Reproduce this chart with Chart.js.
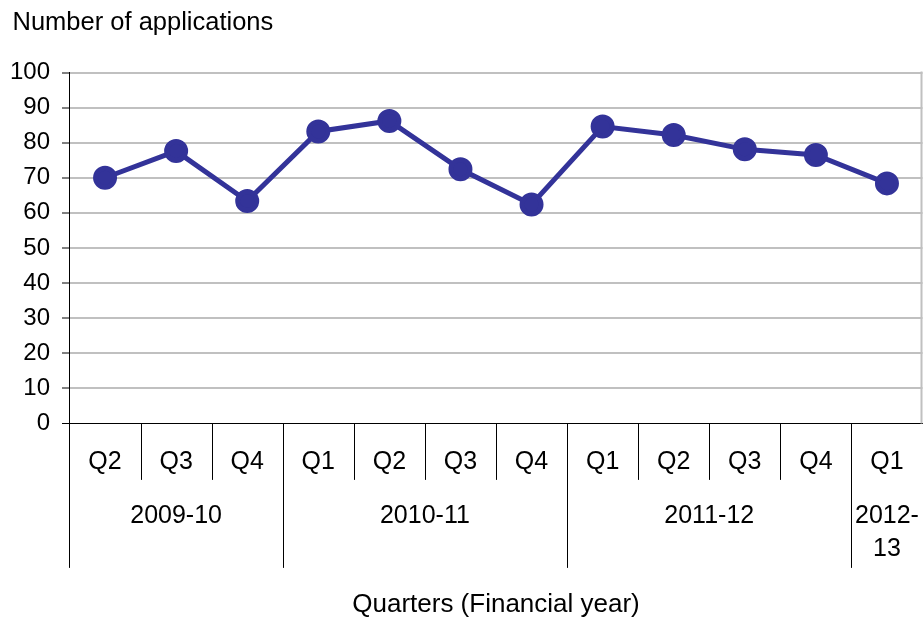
<!DOCTYPE html>
<html>
<head>
<meta charset="utf-8">
<script src="https://cdn.jsdelivr.net/npm/chart.js@4/dist/chart.umd.min.js"></script>
<style>
  html, body { margin: 0; padding: 0; background: #ffffff; }
  #wrap { width: 924px; height: 626px; }
</style>
</head>
<body>
<div id="wrap"><canvas id="c" width="924" height="626"></canvas></div>
<script>
// ---- data ----
const quarters = ['Q2','Q3','Q4','Q1','Q2','Q3','Q4','Q1','Q2','Q3','Q4','Q1'];
const financialYears = ['2009-10','2009-10','2009-10','2010-11','2010-11','2010-11','2010-11','2011-12','2011-12','2011-12','2011-12','2012-13'];
const applications = [70, 77.6, 63.4, 83.2, 86.2, 72.4, 62.4, 84.6, 82.2, 78.1, 76.5, 68.4];
const yTicks = [0, 10, 20, 30, 40, 50, 60, 70, 80, 90, 100];
const yTitle = 'Number of applications';
const xTitle = 'Quarters (Financial year)';
// year labels that wrap onto two lines
const yearLabelLines = { '2012-13': ['2012-', '13'] };

const FONT = "'Liberation Sans', Arial, sans-serif";
const LINE_COLOR = '#333399';

const groupPlugin = {
  id: 'groupAxis',
  afterDraw(chart) {
    const ctx = chart.ctx;
    const xs = chart.scales.x;
    const area = chart.chartArea;
    const n = quarters.length;
    const half = (xs.getPixelForValue(1) - xs.getPixelForValue(0)) / 2;
    ctx.save();
    // right border of plot area
    ctx.strokeStyle = '#c0c0c0';
    ctx.lineWidth = 2;
    ctx.beginPath();
    ctx.moveTo(area.right - 1, area.top - 1);
    ctx.lineTo(area.right - 1, area.bottom);
    ctx.stroke();
    // separators
    ctx.strokeStyle = '#000000';
    ctx.lineWidth = 1;
    for (let i = 0; i < n; i++) {
      const x = Math.round(xs.getPixelForValue(i) - half) + 0.5;
      const isYear = i === 0 || financialYears[i] !== financialYears[i - 1];
      ctx.beginPath();
      ctx.moveTo(x, area.bottom);
      ctx.lineTo(x, area.bottom + (isYear ? 144.5 : 56.5));
      ctx.stroke();
    }
    // year labels
    ctx.fillStyle = '#000000';
    ctx.font = '25px ' + FONT;
    ctx.textAlign = 'center';
    ctx.textBaseline = 'middle';
    let start = 0;
    for (let i = 1; i <= n; i++) {
      if (i === n || financialYears[i] !== financialYears[start]) {
        const cx = (xs.getPixelForValue(start) + xs.getPixelForValue(i - 1)) / 2;
        const name = financialYears[start];
        const lines = yearLabelLines[name] || [name];
        lines.forEach((ln, k) => ctx.fillText(ln, cx, area.bottom + 93 + k * 33));
        start = i;
      }
    }
    // titles
    ctx.textBaseline = 'alphabetic';
    ctx.textAlign = 'left';
    ctx.font = '25.5px ' + FONT;
    ctx.fillText(yTitle, 12.5, 29.5);
    ctx.textAlign = 'center';
    ctx.font = '26px ' + FONT;
    ctx.fillText(xTitle, (area.left + area.right) / 2, 612);
    ctx.restore();
  }
};

new Chart(document.getElementById('c'), {
  type: 'line',
  data: {
    labels: quarters,
    datasets: [{
      data: applications,
      borderColor: LINE_COLOR,
      backgroundColor: LINE_COLOR,
      pointBackgroundColor: LINE_COLOR,
      pointBorderColor: LINE_COLOR,
      borderWidth: 5,
      pointRadius: 9.5,
      pointHoverRadius: 9.5,
      tension: 0,
      fill: false
    }]
  },
  options: {
    responsive: false,
    animation: false,
    devicePixelRatio: 1,
    layout: { autoPadding: false, padding: { left: 10, right: 1.5, top: 72.5, bottom: 149.7 } },
    plugins: { legend: { display: false }, tooltip: { enabled: false }, title: { display: false } },
    scales: {
      x: {
        type: 'category',
        offset: true,
        grid: { display: false, drawTicks: false },
        border: { display: true, color: '#000000', width: 1 },
        afterFit(scale) { scale.height = 52.9; scale.paddingLeft = 0; scale.paddingRight = 0; },
        ticks: {
          color: '#000000',
          font: { family: FONT, size: 25 },
          padding: 24.1,
          maxRotation: 0,
          autoSkip: false
        }
      },
      y: {
        min: 0,
        max: 100,
        afterBuildTicks(scale) { scale.ticks = yTicks.map(v => ({ value: v })); },
        afterFit(scale) { scale.width = 59.5; },
        grid: {
          color: ctx => (ctx.tick && ctx.tick.value === 0) ? '#000000' : '#c0c0c0',
          lineWidth: ctx => (ctx.tick && ctx.tick.value === 0) ? 1 : 2,
          drawTicks: true,
          tickLength: 7.5,
          tickColor: '#000000',
          tickWidth: 1
        },
        border: { display: true, color: '#000000', width: 1 },
        ticks: {
          color: '#000000',
          font: { family: FONT, size: 24 },
          padding: 12
        }
      }
    }
  },
  plugins: [groupPlugin]
});
</script>
</body>
</html>
